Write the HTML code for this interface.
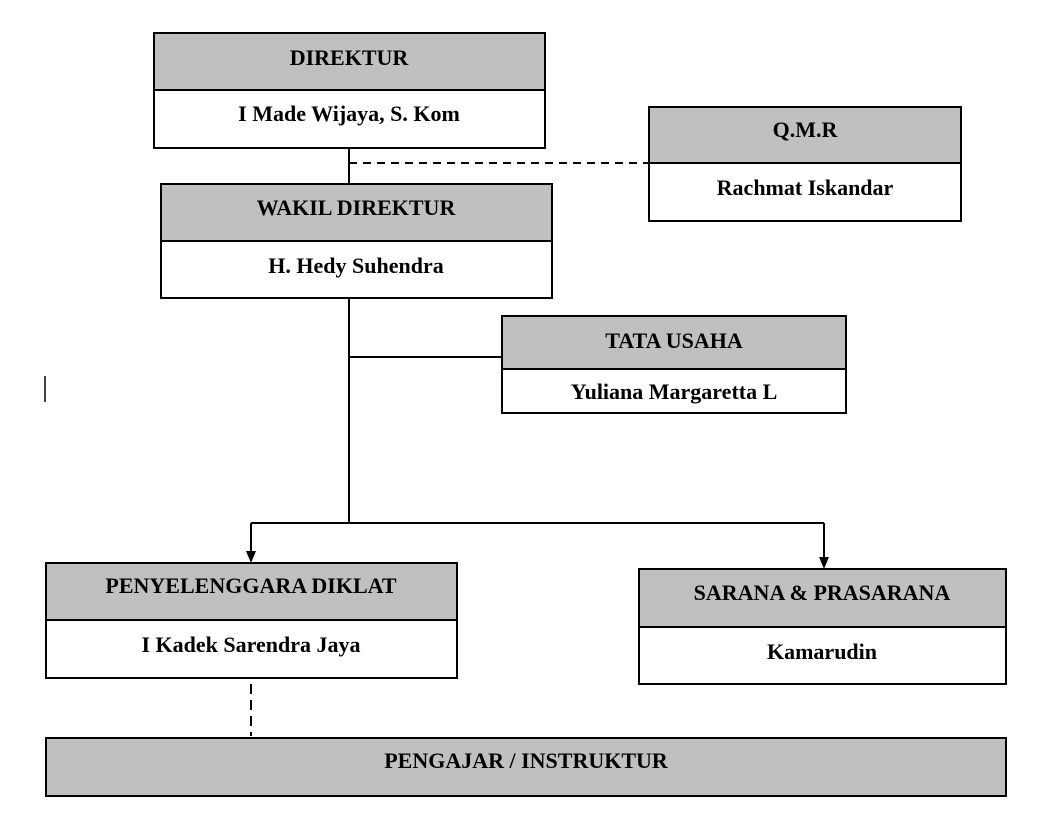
<!DOCTYPE html>
<html><head><style>body{margin:0;background:#fff}svg{display:block}text{font-family:"Liberation Serif",serif;font-weight:bold;font-size:22px;text-anchor:middle}</style></head>
<body>
<svg width="1054" height="834" viewBox="0 0 1054 834">
<g stroke="#000" stroke-width="2" fill="none">
<line x1="349" y1="148" x2="349" y2="184"/>
<line x1="349" y1="163" x2="649" y2="163" stroke-dasharray="8,6"/>
<line x1="349" y1="298" x2="349" y2="523"/>
<line x1="349" y1="357" x2="502" y2="357"/>
<line x1="251" y1="523" x2="824" y2="523"/>
<line x1="251" y1="523" x2="251" y2="552"/>
<line x1="824" y1="523" x2="824" y2="558"/>
<line x1="251" y1="684" x2="251" y2="736" stroke-dasharray="10,6"/>
<line x1="45" y1="376" x2="45" y2="402" stroke-width="1.5"/>
</g>
<path d="M246,551 L256,551 L251,563 Z M819,557 L829,557 L824,569 Z" fill="#000"/>
<g stroke="#000" stroke-width="2">
<rect x="154" y="33" width="391" height="57" fill="#c0c0c0"/><rect x="154" y="90" width="391" height="58" fill="#fff"/>
<rect x="161" y="184" width="391" height="57" fill="#c0c0c0"/><rect x="161" y="241" width="391" height="57" fill="#fff"/>
<rect x="649" y="107" width="312" height="56" fill="#c0c0c0"/><rect x="649" y="163" width="312" height="58" fill="#fff"/>
<rect x="502" y="316" width="344" height="53" fill="#c0c0c0"/><rect x="502" y="369" width="344" height="44" fill="#fff"/>
<rect x="46" y="563" width="411" height="57" fill="#c0c0c0"/><rect x="46" y="620" width="411" height="58" fill="#fff"/>
<rect x="639" y="569" width="367" height="58" fill="#c0c0c0"/><rect x="639" y="627" width="367" height="57" fill="#fff"/>
<rect x="46" y="738" width="960" height="58" fill="#c0c0c0"/>
</g>
<text x="349" y="65">DIREKTUR</text>
<text x="349" y="121">I Made Wijaya, S. Kom</text>
<text x="356" y="215">WAKIL DIREKTUR</text>
<text x="356" y="273">H. Hedy Suhendra</text>
<text x="805" y="137">Q.M.R</text>
<text x="805" y="195">Rachmat Iskandar</text>
<text x="674" y="348">TATA USAHA</text>
<text x="674" y="399">Yuliana Margaretta L</text>
<text x="251" y="593">PENYELENGGARA DIKLAT</text>
<text x="251" y="652">I Kadek Sarendra Jaya</text>
<text x="822" y="600">SARANA &amp; PRASARANA</text>
<text x="822" y="659">Kamarudin</text>
<text x="526" y="768">PENGAJAR / INSTRUKTUR</text>
</svg>
</body></html>
